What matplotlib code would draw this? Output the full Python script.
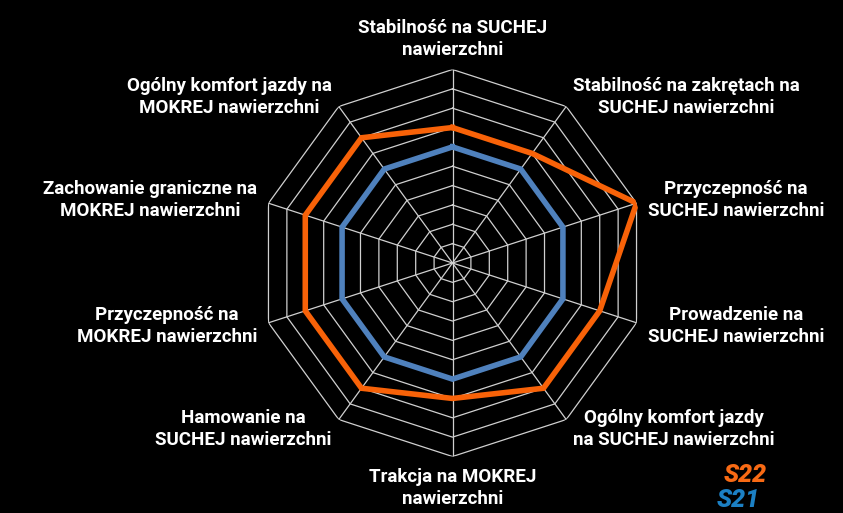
import numpy as np
import matplotlib
matplotlib.use("Agg")
import matplotlib.pyplot as plt

# ======================
# DATA
# ======================
categories = [
    "Stabilność na SUCHEJ\nnawierzchni",
    "Stabilność na zakrętach na\nSUCHEJ nawierzchni",
    "Przyczepność na\nSUCHEJ nawierzchni",
    "Prowadzenie na\nSUCHEJ nawierzchni",
    "Ogólny komfort jazdy\nna SUCHEJ nawierzchni",
    "Trakcja na MOKREJ\nnawierzchni",
    "Hamowanie na\nSUCHEJ nawierzchni",
    "Przyczepność na\nMOKREJ nawierzchni",
    "Zachowanie graniczne na\nMOKREJ nawierzchni",
    "Ogólny komfort jazdy na\nMOKREJ nawierzchni",
]
s22_values = [7, 7, 10, 8, 8, 7, 8, 8, 8, 8]
s21_values = [6, 6, 6, 6, 6, 6, 6, 6, 6, 6]
series_names = ["S22", "S21"]
levels = list(range(1, 11))

# ======================
# STYLE
# ======================
BG = "black"
GRID = "#d0d0d0"
S22_LINE = "#f86208"
S21_LINE = "#4f81bd"
S22_LOGO = "#f86a14"
S21_LOGO = "#1c80c4"
FONT = "Roboto"

W, H, DPI = 843, 513, 100
CX, CY, R = 452.5, 263, 193.5

fig = plt.figure(figsize=(W / DPI, H / DPI), dpi=DPI, facecolor=BG)
ax = fig.add_axes(
    [(CX - R) / W, (H - CY - R) / H, 2 * R / W, 2 * R / H],
    projection="polar",
)
ax.set_facecolor(BG)
ax.set_theta_zero_location("N")
ax.set_theta_direction(-1)
ax.set_ylim(0, max(levels))
ax.axis("off")

n = len(categories)
angles = np.linspace(0, 2 * np.pi, n, endpoint=False)
closed = np.append(angles, angles[0])

# decagon grid
for lv in levels:
    ax.plot(closed, [lv] * (n + 1), color=GRID, lw=0.9, zorder=1)
for a in angles:
    ax.plot([a, a], [0, max(levels)], color=GRID, lw=0.9, zorder=1)

# series
ax.plot(closed, s21_values + s21_values[:1], color=S21_LINE, lw=4,
        solid_joinstyle="miter", zorder=3)
ax.plot(closed, s22_values + s22_values[:1], color=S22_LINE, lw=4,
        solid_joinstyle="miter", zorder=4)

# category labels
for a, label in zip(angles, categories):
    deg = np.degrees(a)
    if np.isclose(deg, 0):
        ha, va, r = "center", "bottom", 10.55
    elif np.isclose(deg, 180):
        ha, va, r = "center", "top", 10.6
    elif deg < 180:
        ha, va, r = "left", "center", 10.6
    else:
        ha, va, r = "right", "center", 10.6
    ax.text(a, r, label, color="white", fontsize=13.5, fontweight="bold",
            family=FONT, ha=ha, va=va, multialignment="center",
            linespacing=1.3, clip_on=False)

# logo-style legend
fig.text(745 / W, 1 - 475 / H, series_names[0], color=S22_LOGO, fontsize=18,
         fontweight="black", fontstyle="italic", family=FONT,
         ha="center", va="center")
fig.text(738 / W, 1 - 500 / H, series_names[1], color=S21_LOGO, fontsize=18,
         fontweight="black", fontstyle="italic", family=FONT,
         ha="center", va="center")

fig.savefig("out.png", dpi=DPI, facecolor=BG)
